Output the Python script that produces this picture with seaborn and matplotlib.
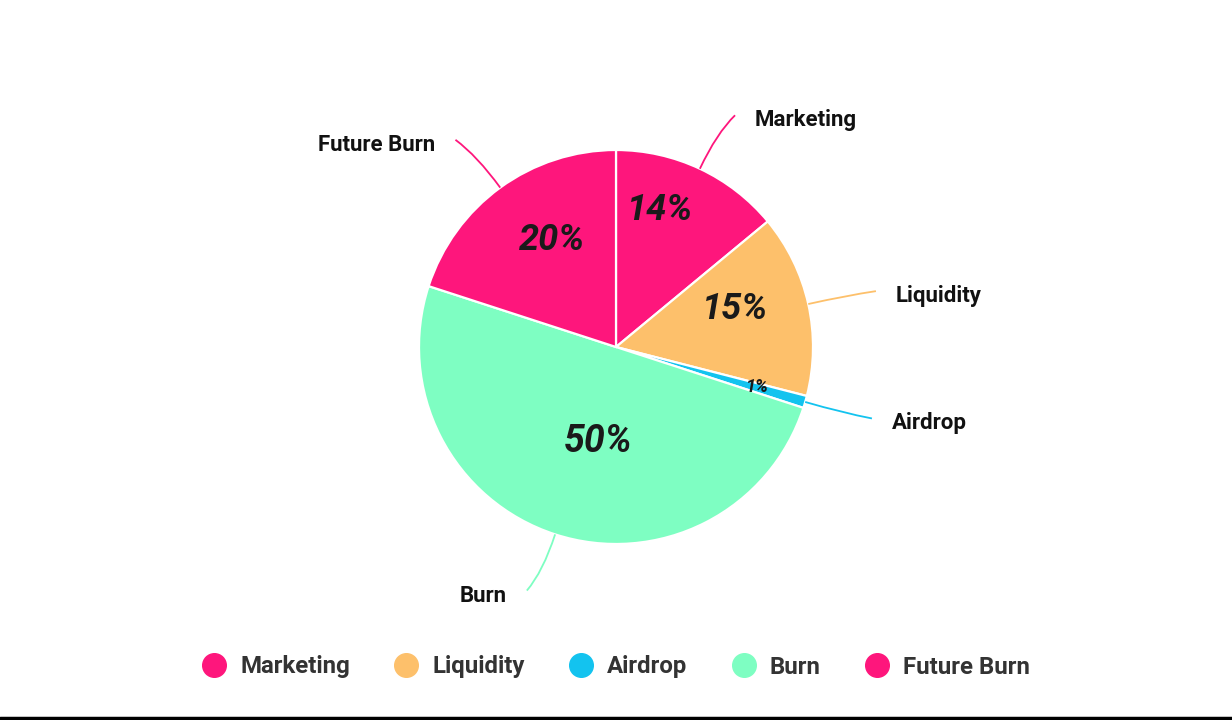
import numpy as np
import matplotlib
matplotlib.use("Agg")
import matplotlib.pyplot as plt
import seaborn as sns
from matplotlib.path import Path
from matplotlib.patches import PathPatch
from matplotlib.lines import Line2D

# data
labels = ["Marketing", "Liquidity", "Airdrop", "Burn", "Future Burn"]
shares = [14, 15, 1, 50, 20]
colors = ["#FE167C", "#FDC06B", "#13C3EF", "#7EFEC2", "#FE167C"]

sns.set_theme(style="white")
plt.rcParams["font.family"] = ["Roboto", "DejaVu Sans"]

fig = plt.figure(figsize=(12.32, 7.2), dpi=100)
ax = fig.add_axes([0, 0, 1, 1])

cx, cy, r = 616, 373, 197
wedges, _ = ax.pie(shares, colors=colors, startangle=90, counterclock=False,
                   center=(cx, cy), radius=r, frame=True,
                   wedgeprops=dict(edgecolor="white", linewidth=1.6))
ax.set_xlim(0, 1232)
ax.set_ylim(0, 720)
ax.set_aspect("equal")
ax.axis("off")

# percentage labels inside the slices
pct_r = [0.75, 0.64, 0.74, 0.47, 0.65]
pct_shift = [-8, -7, -2, -7, 6]
pct_size = [26, 26, 13, 27, 26]
for w, s, rf, sh, fs in zip(wedges, shares, pct_r, pct_shift, pct_size):
    a = np.deg2rad((w.theta1 + w.theta2) / 2 - sh)
    ax.text(cx + rf * r * np.cos(a), cy + rf * r * np.sin(a) - 4, f"{s}%",
            ha="center", va="center", fontsize=fs, fontweight="bold",
            fontstyle="italic", color="#1a1a1a")

# outside labels with curved leader lines
for w, lab, col in zip(wedges, labels, colors):
    a = np.deg2rad((w.theta1 + w.theta2) / 2)
    d = np.array([np.cos(a), np.sin(a)])
    side = 1 if d[0] >= 0 else -1
    p0 = np.array([cx, cy]) + r * d
    p1 = np.array([cx, cy]) + 1.2 * r * d
    p2 = np.array([cx, cy]) + 1.3 * r * d + np.array([side * 10, 0])
    path = Path([p0, p1, p2], [Path.MOVETO, Path.CURVE3, Path.CURVE3])
    ax.add_patch(PathPatch(path, facecolor="none", edgecolor=col, lw=1.3))
    ax.text(p2[0] + side * 20, p2[1] - 5, lab, ha="left" if side > 0 else "right",
            va="center", fontsize=16, fontweight="bold", color="#111111")

# legend
handles = [Line2D([], [], marker="o", linestyle="", markersize=17,
                  markerfacecolor=c, markeredgecolor=c) for c in colors]
leg = fig.legend(handles, labels, loc="center", bbox_to_anchor=(0.5, 53 / 720),
                 ncol=5, frameon=False, handlelength=1.0, handletextpad=0.58,
                 columnspacing=1.85,
                 prop=dict(family="Roboto", weight="bold", size=17.3))
for t in leg.get_texts():
    t.set_color("#333333")

# bottom rule
fig.add_artist(Line2D([0, 1], [2 / 720, 2 / 720], color="black", lw=2.5,
                      transform=fig.transFigure))

fig.savefig("out.png", dpi=100, facecolor="white")
